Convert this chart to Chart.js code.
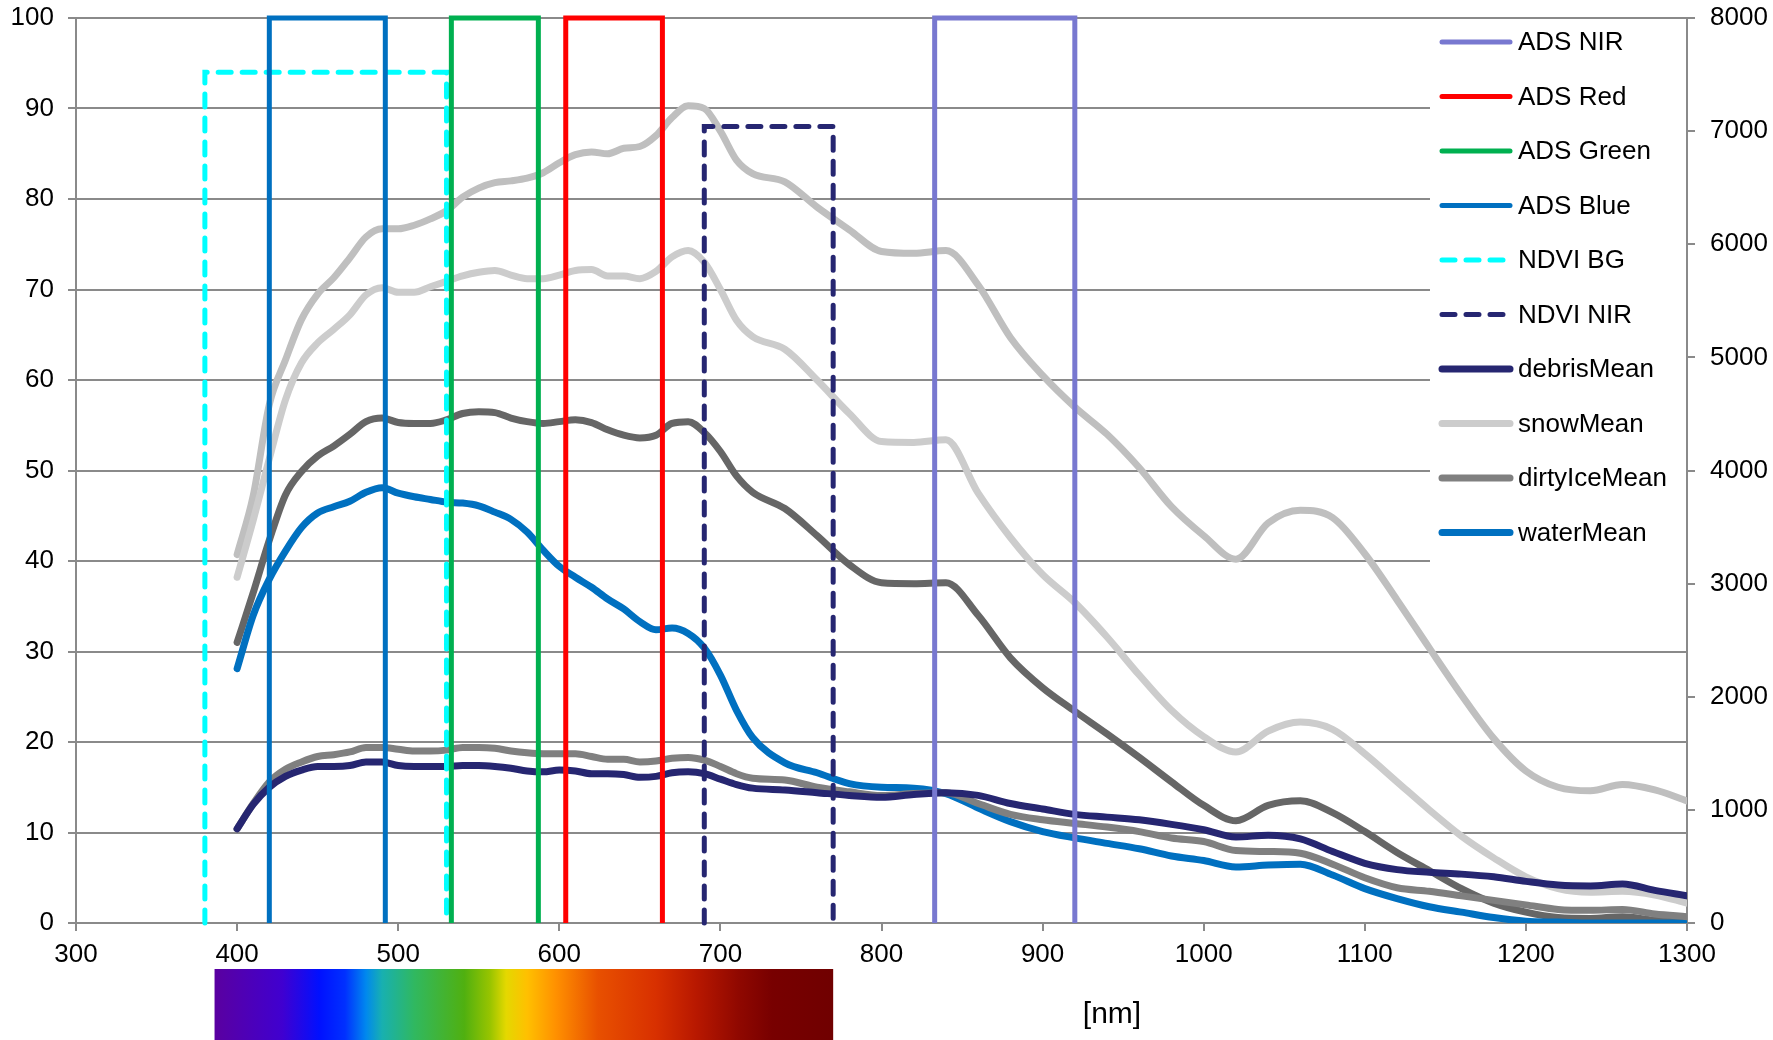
<!DOCTYPE html>
<html lang="en">
<head>
  <meta charset="UTF-8" />
  <title>Spectral bands and surface means</title>
  <script src="https://cdn.jsdelivr.net/npm/chart.js"></script>
  <style>
    html, body { margin: 0; padding: 0; background: #fff; }
    canvas { display: block; }
  </style>
</head>
<body>
  <canvas id="chart" width="1773" height="1040"></canvas>

  <script>
    // wavelengths [nm] of the sampled curves
    const wl = [400, 410, 420, 430, 440, 450, 460, 470, 480, 490, 500, 510, 520, 530, 540, 550,
      560, 570, 580, 590, 600, 610, 620, 630, 640, 650, 660, 670, 680, 690, 700, 710, 720,
      740, 760, 780, 800, 820, 840, 860, 880, 900, 920, 940, 960, 980, 1000, 1020, 1040,
      1060, 1080, 1100, 1120, 1140, 1160, 1180, 1200, 1220, 1240, 1260, 1280, 1300];

    const debrisMean = [10.4, 13.1, 15.0, 16.2, 16.9, 17.3, 17.3, 17.4, 17.8, 17.8, 17.4, 17.3, 17.3, 17.3, 17.4, 17.4,
      17.3, 17.1, 16.8, 16.7, 16.9, 16.8, 16.5, 16.5, 16.4, 16.1, 16.2, 16.6, 16.7, 16.5, 15.9, 15.3, 14.9,
      14.7, 14.4, 14.1, 13.9, 14.2, 14.4, 14.1, 13.2, 12.6, 12.0, 11.7, 11.4, 10.9, 10.3, 9.5, 9.7,
      9.3, 7.9, 6.6, 5.9, 5.6, 5.4, 5.1, 4.6, 4.2, 4.1, 4.3, 3.6, 3.0];

    const snowMean = [38.2, 44.5, 51.3, 57.8, 61.9, 64.1, 65.6, 67.2, 69.4, 70.2, 69.7, 69.7, 70.3, 70.9, 71.5, 71.9,
      72.1, 71.6, 71.2, 71.2, 71.6, 72.1, 72.2, 71.5, 71.5, 71.2, 72.0, 73.6, 74.3, 73.0, 70.0, 66.6, 64.8,
      63.4, 60.0, 56.3, 53.2, 53.1, 53.4, 47.5, 42.6, 38.5, 35.4, 31.6, 27.4, 23.5, 20.6, 18.9, 21.2,
      22.2, 21.4, 18.7, 15.6, 12.5, 9.6, 7.2, 5.1, 3.8, 3.4, 3.5, 3.1, 2.2];

    const dirtyIceMean = [10.4, 13.2, 15.6, 17.0, 17.8, 18.4, 18.6, 18.9, 19.4, 19.4, 19.2, 19.0, 19.0, 19.1, 19.4, 19.4,
      19.3, 19.0, 18.8, 18.7, 18.7, 18.7, 18.4, 18.1, 18.1, 17.8, 17.9, 18.2, 18.3, 18.0, 17.3, 16.5, 16.0,
      15.8, 15.0, 14.5, 14.1, 14.3, 14.4, 13.2, 12.0, 11.4, 11.0, 10.6, 10.1, 9.4, 9.0, 8.0, 7.9,
      7.7, 6.5, 5.0, 3.9, 3.5, 3.0, 2.5, 2.0, 1.5, 1.4, 1.5, 1.0, 0.7];

    const waterMean = [28.1, 34.0, 38.0, 41.1, 43.7, 45.3, 46.0, 46.6, 47.6, 48.1, 47.5, 47.1, 46.8, 46.5, 46.4, 46.1,
      45.4, 44.6, 43.2, 41.2, 39.4, 38.2, 37.1, 35.8, 34.7, 33.3, 32.4, 32.6, 32.0, 30.4, 27.4, 23.5, 20.5,
      17.7, 16.6, 15.4, 15.0, 14.9, 14.3, 12.7, 11.2, 10.1, 9.4, 8.8, 8.2, 7.4, 6.9, 6.2, 6.4,
      6.5, 5.3, 3.8, 2.7, 1.8, 1.2, 0.6, 0.2, 0.1, 0.0, 0.0, 0.0, 0.0];

    // two more curves in the plot that have no legend entry
    const snowUpper = [40.7, 47.2, 57.3, 62.2, 66.7, 69.5, 71.3, 73.5, 75.8, 76.7, 76.7, 77.1, 77.8, 78.7, 80.2, 81.2,
      81.8, 82.0, 82.3, 82.9, 84.0, 84.9, 85.2, 85.0, 85.6, 85.8, 87.0, 89.0, 90.3, 90.0, 87.5, 84.3, 82.8,
      81.9, 79.1, 76.6, 74.2, 74.0, 74.3, 70.5, 64.7, 60.5, 57.0, 54.0, 50.3, 46.0, 42.8, 40.2, 44.2,
      45.6, 44.8, 40.8, 35.7, 30.4, 25.2, 20.4, 16.8, 15.0, 14.6, 15.3, 14.7, 13.5];

    const dirtyIceUpper = [31.0, 36.5, 42.3, 47.3, 49.9, 51.6, 52.7, 54.0, 55.4, 55.8, 55.3, 55.2, 55.2, 55.6, 56.3, 56.5,
      56.4, 55.8, 55.4, 55.2, 55.4, 55.6, 55.3, 54.5, 53.9, 53.6, 53.9, 55.2, 55.4, 54.2, 52.1, 49.4, 47.6,
      45.8, 42.8, 39.6, 37.6, 37.5, 37.6, 34.0, 29.3, 26.0, 23.4, 20.9, 18.3, 15.6, 13.0, 11.3, 13.0,
      13.5, 12.2, 10.1, 7.8, 5.8, 3.8, 2.2, 1.2, 0.6, 0.5, 0.7, 0.3, 0.1];

    // sensor bands drawn as boxes: from / to [nm], box height [%]
    const bandNames = ['ADS NIR', 'ADS Red', 'ADS Green', 'ADS Blue', 'NDVI BG', 'NDVI NIR'];
    const bandFrom = [833, 604, 533, 420, 380, 690];
    const bandTo = [920, 664, 587, 492, 530, 770];
    const bandTop = [100, 100, 100, 100, 94, 88];
    const bandColors = ['#7878d0', '#ff0000', '#00b050', '#0070c0', '#00ffff', '#262671'];
    const bandDashed = [false, false, false, false, true, true];

    // visible spectrum strip under the axis
    const specWl = [386, 428, 451, 467, 480, 490, 510, 541, 557, 567, 580, 598, 624, 660, 685, 711, 732, 770];
    const specColor = ['#5a00a0', '#4000d0', '#0010ff', '#0030ff', '#0088ee', '#18b0b0', '#30b860', '#50b010',
      '#98c400', '#e4d800', '#ffc000', '#ff9000', '#e85000', '#d83000', '#b81800', '#900800', '#780000', '#700000'];

    const gridGray = '#8a8a8a';
    const FONT = '"Liberation Sans", Arial, sans-serif';
    Chart.defaults.font.family = FONT;
    Chart.defaults.font.size = 26;
    Chart.defaults.color = '#000';

    const pts = vals => wl.map((x, i) => ({ x, y: vals[i] }));

    const datasets = bandNames.map((name, i) => ({
      label: name,
      data: [
        { x: bandFrom[i], y: 0 }, { x: bandFrom[i], y: bandTop[i] },
        { x: bandTo[i], y: bandTop[i] }, { x: bandTo[i], y: 0 }
      ],
      borderColor: bandColors[i],
      borderWidth: 5,
      borderDash: bandDashed[i] ? [13, 11] : [],
      borderCapStyle: bandDashed[i] ? 'round' : 'butt',
      borderJoinStyle: 'miter',
      tension: 0,
      clip: false
    }));

    const curve = (label, vals, color) => ({
      label,
      data: pts(vals),
      borderColor: color,
      borderWidth: 7,
      cubicInterpolationMode: 'monotone',
      borderCapStyle: 'round',
      borderJoinStyle: 'round'
    });

    datasets.push(
      curve('debrisMean', debrisMean, '#262671'),
      curve('snowMean', snowMean, '#cccccc'),
      curve('dirtyIceMean', dirtyIceMean, '#808080'),
      curve('waterMean', waterMean, '#0070c0'),
      curve('snowUpper', snowUpper, '#bfbfbf'),
      curve('dirtyIceUpper', dirtyIceUpper, '#666666')
    );
    const legendCount = 10;

    // fixed axis sizes; drop the label overhang so the plot reaches the top
    const fixWidth = w => s => { s.width = w; s.paddingTop = 0; s.paddingBottom = 0; };

    const decor = {
      id: 'decor',
      beforeDatasetsDraw(chart) {
        // legend sits on a white box over the grid
        const { ctx, chartArea } = chart;
        ctx.save();
        ctx.fillStyle = '#fff';
        ctx.fillRect(1430, chartArea.top + 2, chartArea.right - 1431, 582);
        ctx.restore();
      },
      afterDraw(chart) {
        const { ctx } = chart;
        const xs = chart.scales.x;
        ctx.save();

        // legend
        ctx.font = '26px ' + FONT;
        ctx.textBaseline = 'middle';
        ctx.textAlign = 'left';
        for (let k = 0; k < legendCount; k++) {
          const ds = chart.data.datasets[k];
          const y = 42 + k * 54.5;
          ctx.strokeStyle = ds.borderColor;
          ctx.lineWidth = ds.borderWidth;
          ctx.lineCap = 'round';
          ctx.setLineDash(ds.borderDash || []);
          ctx.beginPath();
          ctx.moveTo(1442, y);
          ctx.lineTo(1510, y);
          ctx.stroke();
          ctx.setLineDash([]);
          ctx.fillStyle = '#000';
          ctx.fillText(ds.label, 1518, y + 1);
        }

        // spectrum strip
        const x0 = xs.getPixelForValue(specWl[0]);
        const x1 = xs.getPixelForValue(specWl[specWl.length - 1]);
        const grad = ctx.createLinearGradient(x0, 0, x1, 0);
        specWl.forEach((w, i) => {
          grad.addColorStop((xs.getPixelForValue(w) - x0) / (x1 - x0), specColor[i]);
        });
        ctx.fillStyle = grad;
        ctx.fillRect(x0, 969, x1 - x0, chart.height - 969);

        // unit label
        ctx.font = '30px ' + FONT;
        ctx.textAlign = 'center';
        ctx.textBaseline = 'alphabetic';
        ctx.fillStyle = '#000';
        ctx.fillText('[nm]', 1112, 1023);
        ctx.restore();
      }
    };

    new Chart(document.getElementById('chart'), {
      type: 'line',
      data: { datasets },
      options: {
        responsive: false,
        animation: false,
        layout: { padding: { top: 18, left: 0, right: 0, bottom: 0 } },
        elements: { point: { radius: 0 }, line: { fill: false } },
        scales: {
          x: {
            type: 'linear',
            min: 300,
            max: 1300,
            ticks: { stepSize: 100, padding: 8, callback: v => String(v) },
            grid: { drawOnChartArea: false, drawTicks: true, tickLength: 8, color: gridGray, lineWidth: 2 },
            border: { color: gridGray, width: 2 },
            afterFit: s => { s.height = 117; }
          },
          y: {
            position: 'left',
            min: 0,
            max: 100,
            ticks: { stepSize: 10, padding: 14, callback: v => String(v) },
            grid: { color: gridGray, lineWidth: 2, tickLength: 8 },
            border: { color: gridGray, width: 2 },
            afterFit: fixWidth(76)
          },
          y2: {
            position: 'right',
            min: 0,
            max: 8000,
            ticks: { stepSize: 1000, padding: 15, callback: v => String(v) },
            grid: { drawOnChartArea: false, color: gridGray, lineWidth: 2, tickLength: 8 },
            border: { color: gridGray, width: 2 },
            afterFit: fixWidth(86)
          }
        },
        plugins: {
          legend: { display: false },
          tooltip: { enabled: false }
        }
      },
      plugins: [decor]
    });
  </script>
</body>
</html>
